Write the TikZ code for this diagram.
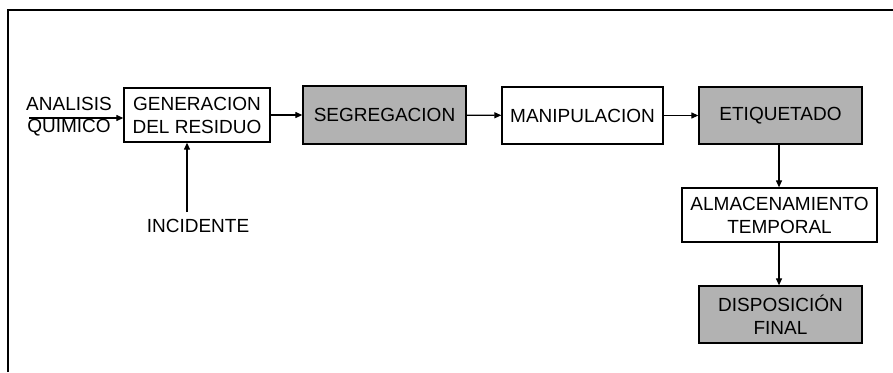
\documentclass[tikz,border=0pt]{standalone}
\usepackage{fontspec}
\setmainfont{Liberation Sans}
\usetikzlibrary{arrows.meta}

\begin{document}
\begin{tikzpicture}[x=1pt, y=-1pt,
	caja/.style={draw, line width=1.3pt, align=center, inner sep=0pt,
		font=\fontsize{19}{23}\selectfont},
	gris/.style={caja, fill=gray!60},
	flecha/.style={line width=1.2pt, -{Triangle[length=7pt,width=6pt]}},
	texto/.style={align=center, inner sep=0pt, font=\fontsize{19}{22}\selectfont}]

\useasboundingbox (0,0) rectangle (893,372);

% Marco
	\draw[line width=2pt] (8,372) -- (8,10) -- (893,10);

% Cajas
	\node[caja, minimum width=146pt, minimum height=54pt] (gen) at (197,115) {GENERACION\\DEL RESIDUO};
	\node[gris, minimum width=163pt, minimum height=58pt] (seg) at (384.5,115) {SEGREGACION};
	\node[caja, minimum width=161pt, minimum height=57pt] (man) at (582.5,115.5) {MANIPULACION};
	\node[gris, minimum width=163pt, minimum height=57pt] (eti) at (780.5,115.5) {ETIQUETADO};
	\node[caja, minimum width=195pt, minimum height=54pt] (alm) at (779.5,215) {ALMACENAMIENTO\\TEMPORAL};
	\node[gris, minimum width=163pt, minimum height=57pt] (dis) at (780.5,314.5) {DISPOSICIÓN\\FINAL};

% Entradas
	\node[texto] (ana) at (69,116.5) {ANALISIS\\QUIMICO};
	\node[texto] (inc) at (198,226) {INCIDENTE};
	\coordinate (incpt) at (187,212);

% Flechas
	\draw[flecha] ([xshift=3pt,yshift=-1.5pt]ana.west) -- (gen.west |- 0,118);
	\draw[flecha] (incpt) -- (incpt |- gen.south);
	\draw[flecha] (gen) -- (seg);
	\draw[flecha] (seg) -- (man);
	\draw[flecha] (man) -- (eti);
	\draw[flecha] (eti.south -| 779,0) -- (alm.north -| 779,0);
	\draw[flecha] (alm.south -| 779,0) -- (dis.north -| 779,0);
\end{tikzpicture}
\end{document}
